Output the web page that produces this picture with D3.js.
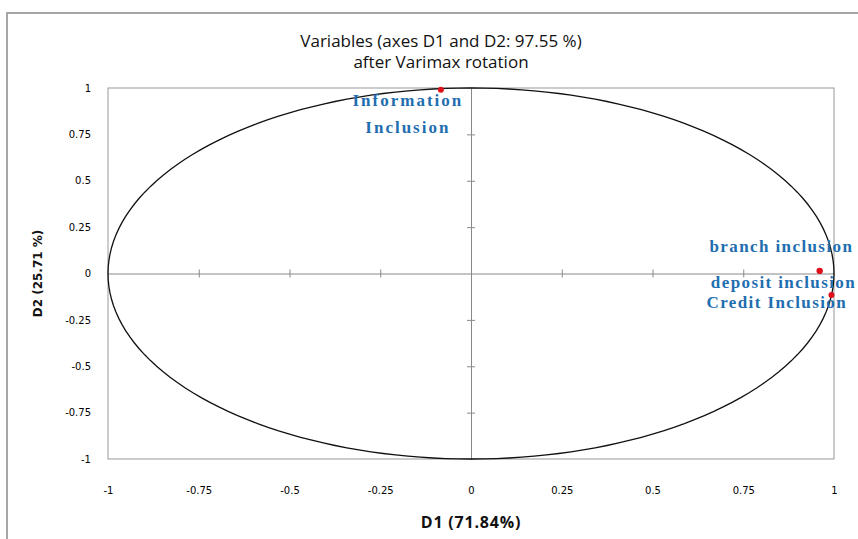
<!DOCTYPE html>
<html><head><meta charset="utf-8">
<script src="https://cdn.jsdelivr.net/npm/d3@7"></script>
<style>body{margin:0;background:#fff}svg{display:block}</style>
</head><body>
<script>
const titleLines = ["Variables (axes D1 and D2: 97.55 %)", "after Varimax rotation"];
const xLabel = "D1 (71.84%)";
const yLabel = "D2 (25.71 %)";
const tickValues = [-1, -0.75, -0.5, -0.25, 0, 0.25, 0.5, 0.75, 1];
const tickLabels = ["-1", "-0.75", "-0.5", "-0.25", "0", "0.25", "0.5", "0.75", "1"];
const varNames = ["Information Inclusion", "branch inclusion", "deposit inclusion", "Credit Inclusion"];
const d1Values = [-0.083, 0.960, 0.961, 0.993];
const d2Values = [0.990, 0.015, 0.013, -0.116];

const W = 858, H = 539;
const svg = d3.select("body").append("svg").attr("width", W).attr("height", H);
const plot = {l: 108, r: 834, t: 88, b: 459};
const x = d3.scaleLinear().domain([-1, 1]).range([plot.l, plot.r]);
const y = d3.scaleLinear().domain([-1, 1]).range([plot.b, plot.t]);

// outer border
svg.append("rect").attr("x", 7).attr("y", 13).attr("width", W).attr("height", H)
  .attr("fill", "none").attr("stroke", "#a6a6a6").attr("stroke-width", 2);

// plot area border
svg.append("rect").attr("x", plot.l).attr("y", plot.t).attr("width", plot.r - plot.l).attr("height", plot.b - plot.t)
  .attr("fill", "none").attr("stroke", "#999").attr("stroke-width", 1);

// titles
svg.selectAll("text.title").data(titleLines).join("text").attr("class", "title")
  .attr("x", 441).attr("y", (d, i) => 47 + i * 21)
  .attr("text-anchor", "middle").attr("font-family", "'Open Sans', sans-serif")
  .attr("font-size", 17).attr("fill", "#111").text(d => d);

// axes through origin
const xAxis = d3.axisBottom(x).tickValues(tickValues).tickFormat("").tickSizeInner(4).tickSizeOuter(0);
const gx = svg.append("g").attr("transform", `translate(0,${y(0)})`).call(xAxis);
gx.selectAll(".tick line").attr("y1", -4).attr("y2", 4);
gx.selectAll(".tick").filter(d => Math.abs(d) === 1 || d === 0).remove();
gx.selectAll("path,line").attr("stroke", "#888");

const yAxis = d3.axisLeft(y).tickValues(tickValues).tickFormat("").tickSizeInner(4).tickSizeOuter(0);
const gy = svg.append("g").attr("transform", `translate(${x(0)},0)`).call(yAxis);
gy.selectAll(".tick line").attr("x1", -4).attr("x2", 4);
gy.selectAll(".tick").filter(d => Math.abs(d) === 1 || d === 0).remove();
gy.selectAll("path,line").attr("stroke", "#888");

// tick labels
const xl = d3.axisBottom(x).tickValues(tickValues).tickFormat((d, i) => tickLabels[i]).tickSize(0).tickPadding(0);
const gxl = svg.append("g").attr("transform", `translate(0,${plot.b + 28})`).call(xl);
gxl.select(".domain").remove();
gxl.selectAll("text").attr("font-family", "'DejaVu Sans', Verdana, sans-serif").attr("font-size", 10).attr("fill", "#000");

const yl = d3.axisLeft(y).tickValues(tickValues).tickFormat((d, i) => tickLabels[i]).tickSize(0).tickPadding(0);
const gyl = svg.append("g").attr("transform", `translate(${plot.l - 17},0)`).call(yl);
gyl.select(".domain").remove();
gyl.selectAll("text").attr("font-family", "'DejaVu Sans', Verdana, sans-serif").attr("font-size", 10).attr("fill", "#000");

// axis titles
svg.append("text").attr("x", x(0)).attr("y", 528).attr("text-anchor", "middle")
  .attr("font-family", "'Open Sans', 'Roboto', sans-serif").attr("font-weight", "bold")
  .attr("font-size", 16).attr("letter-spacing", 0.8).attr("fill", "#111").text(xLabel);
svg.append("text").attr("transform", `translate(42,${y(0)}) rotate(-90)`).attr("text-anchor", "middle")
  .attr("font-family", "'DejaVu Sans', sans-serif").attr("font-weight", "bold")
  .attr("font-size", 12).attr("fill", "#111").text(yLabel);

// correlation circle
const circle = d3.range(0, 361, 2).map(a => [Math.cos(a * Math.PI / 180), Math.sin(a * Math.PI / 180)]);
svg.append("path").datum(circle)
  .attr("d", d3.line().x(d => x(d[0])).y(d => y(d[1])))
  .attr("fill", "none").attr("stroke", "#111").attr("stroke-width", 1.3);

// points
const pts = varNames.map((n, i) => ({name: n, d1: d1Values[i], d2: d2Values[i]}));
svg.selectAll("circle.pt").data(pts).join("circle").attr("class", "pt")
  .attr("cx", d => x(d.d1)).attr("cy", d => y(d.d2)).attr("r", 3).attr("fill", "#e0101a");

// labels
const labelFont = "'Liberation Serif', 'DejaVu Serif', serif";
const lab = svg.append("g").attr("font-family", labelFont).attr("font-weight", "bold")
  .attr("font-size", 17).attr("fill", "#1f6eb0").attr("letter-spacing", 2);
// Information Inclusion (two lines, centered under the point)
lab.append("text").attr("y", y(d2Values[0]) + 16).attr("text-anchor", "middle")
  .selectAll("tspan").data(varNames[0].split(" ")).join("tspan")
  .attr("x", x(d1Values[0]) - 33).attr("dy", (d, i) => i === 0 ? 0 : 27).text(d => d);
const right = lab.append("g").attr("letter-spacing", 1.4);
right.append("text").attr("x", x(d1Values[1]) - 110).attr("y", y(d2Values[1]) - 19).text(varNames[1]);
right.append("text").attr("x", x(d1Values[2]) - 109).attr("y", y(d2Values[2]) + 17).text(varNames[2]);
right.append("text").attr("x", x(d1Values[3]) - 125).attr("y", y(d2Values[3]) + 13).text(varNames[3]);
</script>
</body></html>
